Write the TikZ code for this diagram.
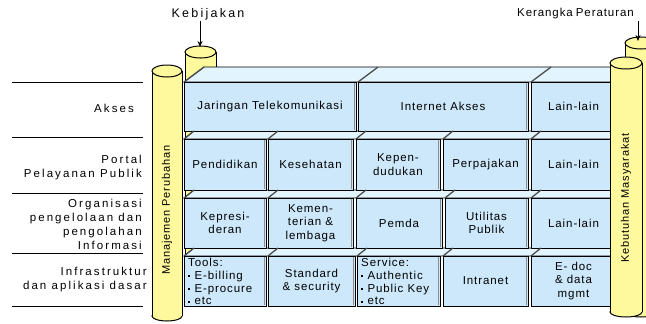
\documentclass[tikz,border=0pt]{standalone}
\usepackage{fontspec}
\setmainfont{Liberation Sans}
\newfontfamily\pixfont[LetterSpace=8]{Liberation Sans}
\newfontfamily\widefont[LetterSpace=18]{Liberation Sans}
\usetikzlibrary{arrows.meta}
\definecolor{wallfront}{RGB}{204,232,250}
\definecolor{walltop}{RGB}{226,244,253}
\definecolor{pillarfill}{RGB}{255,249,158}
\tikzset{
  pillar/.style={draw=black, line width=1pt, fill=pillarfill},
  brick/.style={draw=black, line width=0.8pt, fill=wallfront},
  brickside/.style={draw=black!45, line width=1.6pt},
  slant/.style={draw=black!70, line width=1.3pt},
  strip/.style={draw=black, line width=0.8pt, fill=walltop},
  bricktext/.style={font=\pixfont\fontsize{11.5}{13.5}\selectfont, align=center, inner sep=0pt},
  listtext/.style={font=\pixfont\fontsize{11.5}{12.8}\selectfont, align=left, anchor=north west, inner sep=0pt},
  rowlabel/.style={font=\widefont\fontsize{11.5}{14}\selectfont, align=right, anchor=east, inner sep=0pt},
  pillartext/.style={font=\pixfont\fontsize{11}{13}\selectfont, rotate=90, inner sep=0pt},
  toplabel/.style={font=\widefont\fontsize{12.5}{14}\selectfont, inner sep=1pt},
  pointer/.style={-{Stealth[length=6pt,width=5pt]}, line width=1pt}
}
% cylinder: (centre x, radius, top y, bottom y)
\def\pillar(#1,#2,#3,#4){
  \draw[pillar] (#1,#4) ellipse[x radius=#2pt, y radius=5pt];
  \fill[pillarfill] (#1-#2,#3) rectangle (#1+#2,#4);
  \draw[line width=1pt] (#1-#2,#3) -- (#1-#2,#4) (#1+#2,#3) -- (#1+#2,#4);
  \draw[pillar] (#1,#3) ellipse[x radius=#2pt, y radius=6pt];
}
% one brick of the wall: (left, right, top, bottom)
\def\brickshape(#1,#2,#3,#4){
  \draw[slant] (#1,#3) -- ++(\sdx,-\sdh);
  \draw[brick] (#1,#3) rectangle (#2,#4);
  \draw[line width=1.5pt] (#1+0.3,#3) -- (#1+0.3,#4);
  \draw[brickside] (#2-1.5,#3+0.8) -- (#2-1.5,#4-0.8);
}
\def\brick(#1,#2,#3,#4)#5#6{
  \brickshape(#1,#2,#3,#4)
  \node[bricktext] (#5) at ({(#1+#2)/2},{(#3+#4)/2}) {#6};
}
\def\listbrick(#1,#2,#3,#4)#5#6{
  \brickshape(#1,#2,#3,#4)
  \node[listtext] (#5) at (#1+4,#3+2) {#6};
}
\def\sq{\raisebox{0.35ex}{\rule{2.2pt}{2.2pt}}\ }

\begin{document}
\begin{tikzpicture}[x=1pt,y=-1pt]
  %%%%% START %%%%%
  \useasboundingbox (0,0) rectangle (646,324);
  \clip (0,0) rectangle (646,324);

  % row labels on the left
  \foreach \y in {82,137,193,253,306}
    \draw[line width=0.8pt] (12,\y) -- (143,\y);
  \node[rowlabel] (akses) at (134,108) {Akses};
  \node[rowlabel] (portal) at (142,168) {Portal\\Pelayanan Publik};
  \node[rowlabel] (organisasi) at (142,224) {Organisasi\\pengelolaan dan\\pengolahan\\Informasi};
  \node[rowlabel] (infra) at (147,280) {Infrastruktur\\dan aplikasi dasar};

  % back pillars
  \pillar(200.5,15.5,52,300)
  \pillar(641,16,43,312)

  % top face of the wall and the strips between rows
  \draw[strip] (184,82) -- (204,67) -- (616,67) -- (616,82) -- cycle;
  \draw[strip] (184,139) -- (194,131) -- (616,131) -- (616,139) -- cycle;
  \draw[strip] (184,198) -- (194,190) -- (616,190) -- (616,198) -- cycle;
  \draw[strip] (184,256) -- (194,248) -- (616,248) -- (616,256) -- cycle;

  % row 1
  \def\sdx{20}\def\sdh{15}
  \brick(184,356,82,131){jaringan}{Jaringan Telekomunikasi}
  \brick(358,528,82,131){internet}{Internet Akses}
  \brick(531,616,82,131){lainA}{Lain-lain}

  % row 2
  \def\sdx{10}\def\sdh{8}
  \brick(184,266,139,190){pendidikan}{Pendidikan}
  \brick(268,353,139,190){kesehatan}{Kesehatan}
  \brick(356,440,139,190){kependudukan}{Kepen-\\dudukan}
  \brick(443,528,139,190){perpajakan}{Perpajakan}
  \brick(531,616,139,190){lainB}{Lain-lain}

  % row 3
  \brick(184,266,198,248){kepresidenan}{Kepresi-\\deran}
  \brick(268,353,198,248){kementerian}{Kemen-\\terian \&\\lembaga}
  \brick(356,442,198,248){pemda}{Pemda}
  \brick(445,528,198,248){utilitas}{Utilitas\\Publik}
  \brick(531,616,198,248){lainC}{Lain-lain}

  % row 4
  \listbrick(184,266,256,306){tools}{Tools:\\\sq E-billing\\\sq E-procure\\\sq etc}
  \brick(268,355,256,306){standard}{Standard\\\& security}
  \listbrick(357,440,256,306){service}{Service:\\\sq Authentic\\\sq Public Key\\\sq etc}
  \brick(443,528,256,306){intranet}{Intranet}
  \brick(531,616,256,306){edoc}{E- doc\\\& data\\mgmt}

  % front pillars
  \pillar(167,15,71,316)
  \node[pillartext] (manajemen) at (167,210) {Manajemen Perubahan};
  \pillar(626,16,63,312)
  \node[pillartext] (kebutuhan) at (626,198) {Kebutuhan Masyarakat};

  % inputs from above
  \node[toplabel] (kebijakan) at (208,14) {Kebijakan};
  \coordinate (kebijakantop) at (200,47);
  \draw[pointer] (kebijakan.south -| kebijakantop) -- (kebijakantop);
  \node[toplabel, font=\pixfont\fontsize{11.5}{14}\selectfont, anchor=west] (kerangka) at (516,14) {Kerangka\hspace{3pt}Peraturan};
  \coordinate (kerangkatop) at (638,41);
  \draw[pointer] (kerangka.south -| kerangkatop) -- (kerangkatop);
  %%%%% END %%%%%
\end{tikzpicture}
\end{document}
